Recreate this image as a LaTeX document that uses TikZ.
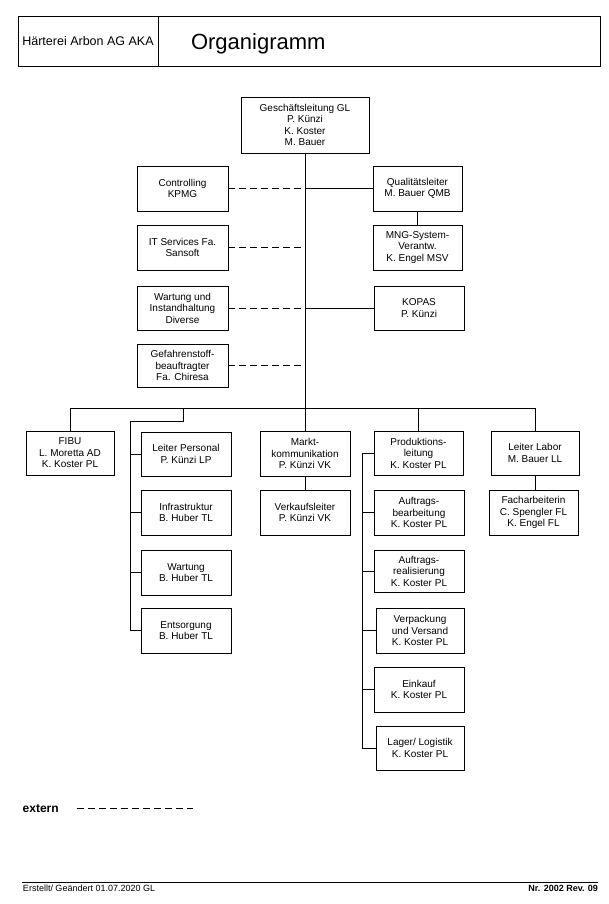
\documentclass[tikz,border=0pt]{standalone}
\usepackage{fontspec}
\setmainfont{Liberation Sans}
\begin{document}
\begin{tikzpicture}[x=1pt,y=-1pt,
  every node/.style={inner sep=0pt, outer sep=0pt},
  bx/.style={draw, line width=0.8pt, align=center, font=\fontsize{10}{11.5}\selectfont},
  sz/.style 2 args={minimum width=#1pt, minimum height=#2pt},
  conn/.style={line width=0.8pt},
  ext/.style={line width=0.8pt, dash pattern=on 7pt off 4pt}]
\useasboundingbox (0,0) rectangle (609,904);
\fill[white] (0,0) rectangle (609,904);

% header
\node[draw, line width=0.8pt, sz={140}{50}, font=\fontsize{12.5}{14}\selectfont] (firm) at (88,41) {Härterei Arbon AG AKA};
\node[draw, line width=0.8pt, sz={442}{50}] (titlecell) at (379,41) {};
\node[anchor=base west, font=\fontsize{22}{26}\selectfont] (title) at (191,50) {Organigramm};

% boxes
\node[bx, sz={128}{56}] (gl) at (305,125) {Geschäftsleitung GL\\P. Künzi\\K. Koster\\M. Bauer};
\node[bx, sz={91}{45}] (ctrl) at (182.5,188.5) {Controlling\\KPMG};
\node[bx, sz={89}{45}] (qual) at (417.5,188.5) {Qualitätsleiter\\M. Bauer QMB};
\node[bx, sz={89}{45}] (mng) at (417.5,247.5) {MNG-System-\\Verantw.\\K. Engel MSV};
\node[bx, sz={91}{45}] (it) at (182.5,247.5) {IT Services Fa.\\Sansoft};
\node[bx, sz={91}{44}] (wart) at (182.5,308) {Wartung und\\Instandhaltung\\Diverse};
\node[bx, sz={90}{44}] (kopas) at (419,308) {KOPAS\\P. Künzi};
\node[bx, sz={91}{43}] (gef) at (182.5,365.5) {Gefahrenstoff-\\beauftragter\\Fa. Chiresa};
\node[bx, sz={88}{44}] (fibu) at (70,453) {FIBU\\L. Moretta AD\\K. Koster PL};
\node[bx, sz={90}{44}] (lp) at (186,454) {Leiter Personal\\P. Künzi LP};
\node[bx, sz={90}{45}] (infra) at (186,512.5) {Infrastruktur\\B. Huber TL};
\node[bx, sz={90}{45}] (wartb) at (186,572.5) {Wartung\\B. Huber TL};
\node[bx, sz={90}{45}] (ents) at (186,630.5) {Entsorgung\\B. Huber TL};
\node[bx, sz={90}{45}] (markt) at (305,453.5) {Markt-\\kommunikation\\P. Künzi VK};
\node[bx, sz={90}{45}] (verk) at (305,512.5) {Verkaufsleiter\\P. Künzi VK};
\node[bx, sz={89}{44}] (prod) at (418.5,453) {Produktions-\\leitung\\K. Koster PL};
\node[bx, sz={90}{45}] (ab) at (419,512.5) {Auftrags-\\bearbeitung\\K. Koster PL};
\node[bx, sz={90}{42}] (ar) at (419,571) {Auftrags-\\realisierung\\K. Koster PL};
\node[bx, sz={88}{45}] (verp) at (420,630.5) {Verpackung\\und Versand\\K. Koster PL};
\node[bx, sz={90}{45}] (eink) at (419,689.5) {Einkauf\\K. Koster PL};
\node[bx, sz={88}{44}] (lager) at (420,748) {Lager/ Logistik\\K. Koster PL};
\node[bx, sz={88}{44}] (labor) at (535,453) {Leiter Labor\\M. Bauer LL};
\node[bx, sz={89}{45}] (fach) at (533.5,512.5) {Facharbeiterin\\C. Spengler FL\\K. Engel FL};

% helper coordinates
\coordinate (busy) at (0,408);
\coordinate (pdrop) at (183.5,408);
\coordinate (pknee) at (183.5,421.5);
\coordinate (pline) at (130,0);
\coordinate (qline) at (362.7,0);

% connectors
\draw[conn] (gl.south) -- (markt.north);
\draw[conn] (fibu.north) -- (fibu.north |- busy) -- (labor.north |- busy) -- (labor.north);
\draw[conn] (prod.north) -- (prod.north |- busy);
\draw[conn] (pdrop) -- (pknee) -| (pline |- ents.west) -- (ents.west);
\foreach \n in {lp,infra,wartb} \draw[conn] (pline |- \n.west) -- (\n.west);
\draw[conn] (prod.west) -| (qline |- lager.west) -- (lager.west);
\foreach \n in {ab,ar,verp,eink} \draw[conn] (qline |- \n.west) -- (\n.west);
\draw[conn] (markt) -- (verk);
\draw[conn] (qual) -- (mng);
\draw[conn] (labor.south) -- (labor.south |- fach.north);
\draw[conn] (qual.west) -- (qual.west -| gl.south);
\draw[conn] (kopas.west) -- (kopas.west -| gl.south);
\foreach \n in {ctrl,it,wart,gef} \draw[ext] (\n.east) -- (\n.east -| gl.south);

% legend
\node[anchor=base west, font=\bfseries\fontsize{12}{14}\selectfont] (extern) at (22.7,812.3) {extern};
\coordinate (exts) at (76.7,808);
\coordinate (exte) at (193,808);
\draw[ext] (exts) -- (exte);

% footer
\coordinate (fl) at (22,882.5);
\coordinate (fr) at (598,882.5);
\draw[line width=0.8pt] (fl) -- (fr);
\node[anchor=base west, font=\fontsize{9}{10}\selectfont] (created) at (23,891) {Erstellt/ Geändert 01.07.2020 GL};
\node[anchor=base east, font=\bfseries\fontsize{9}{10}\selectfont] (rev) at (598,891) {Nr. 2002 Rev. 09};
\end{tikzpicture}
\end{document}
